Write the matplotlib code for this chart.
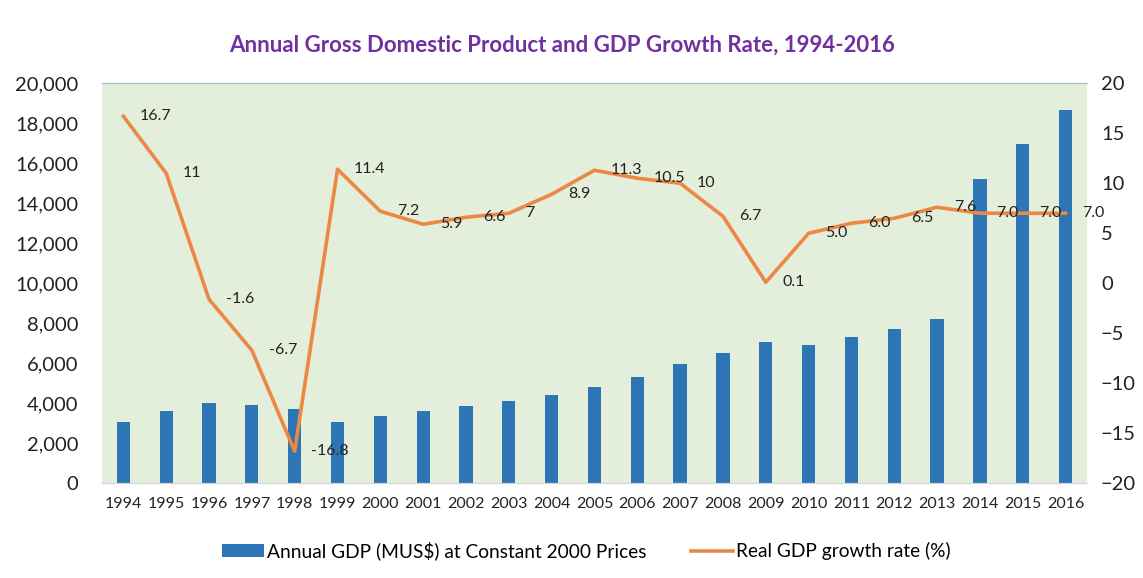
#Annual GDP bars with real growth rate line on a second axis

import matplotlib.pyplot as plt

plt.rcParams['font.family'] = ['Lato', 'DejaVu Sans']

years = ['1994', '1995', '1996', '1997', '1998', '1999', '2000', '2001', '2002', '2003', '2004', '2005',
         '2006', '2007', '2008', '2009', '2010', '2011', '2012', '2013', '2014', '2015', '2016']
gdp = [3080, 3615, 4000, 3915, 3700, 3080, 3365, 3615, 3865, 4115, 4415, 4800,
       5333, 5950, 6500, 7050, 6915, 7300, 7733, 8217, 15200, 16950, 18667]
growth = [16.7, 11, -1.6, -6.7, -16.8, 11.4, 7.2, 5.9, 6.6, 7, 8.9, 11.3,
          10.5, 10, 6.7, 0.1, 5.0, 6.0, 6.5, 7.6, 7.0, 7.0, 7.0]
growth_labels = ['16.7', '11', '-1.6', '-6.7', '-16.8', '11.4', '7.2', '5.9', '6.6', '7', '8.9', '11.3',
                 '10.5', '10', '6.7', '0.1', '5.0', '6.0', '6.5', '7.6', '7.0', '7.0', '7.0']

fig = plt.figure(figsize=(11.43, 5.78), dpi=100)
ax = fig.add_axes([0.0892, 0.1638, 0.8618, 0.6922])
ax.set_facecolor('#E3EFDB')

x = range(len(years))
bars = ax.bar(x, gdp, width=0.31, color='#2E75B6', zorder=2, label='Annual GDP (MUS$) at Constant 2000 Prices')
ax.set_xlim(-0.5, len(years) - 0.5)
ax.set_ylim(0, 20000)
ax.set_yticks(range(0, 20001, 2000))
ax.set_yticklabels(['{:,}'.format(v) for v in range(0, 20001, 2000)], fontsize=14.5, color='#222222')
ax.set_xticks(list(x))
ax.set_xticklabels(years, fontsize=11.5, color='#222222')
ax.tick_params(length=0, pad=10)
ax.tick_params(axis='y', pad=17)

ax2 = ax.twinx()
line, = ax2.plot(x, growth, color='#EC8845', lw=2.6, zorder=3, label='Real GDP growth rate (%)')
ax2.set_ylim(-20, 20)
ax2.set_yticks(range(-20, 21, 5))
ax2.tick_params(length=0, pad=10, labelsize=14.5, labelcolor='#222222')

for i, v in enumerate(growth):
    ax2.annotate(growth_labels[i], (i, v), xytext=(12, 0), textcoords='offset points',
                 va='center', ha='left', fontsize=11.5, color='#222222', clip_on=False)

for a in (ax, ax2):
    for s in ['left', 'right']:
        a.spines[s].set_visible(False)
    a.spines['top'].set_color('#A9C1CF')
    a.spines['bottom'].set_color('#D0D7DD')

fig.suptitle('Annual Gross Domestic Product and GDP Growth Rate, 1994-2016', x=0.492, y=0.94,
             fontsize=16, fontweight='bold', color='#7030A0')

fig.legend(handles=[bars, line], loc='center', bbox_to_anchor=(0.513, 0.047), ncol=2,
           frameon=False, fontsize=13.8, handlelength=2.2, handletextpad=0.15, columnspacing=2.3)

plt.savefig('out.png')
